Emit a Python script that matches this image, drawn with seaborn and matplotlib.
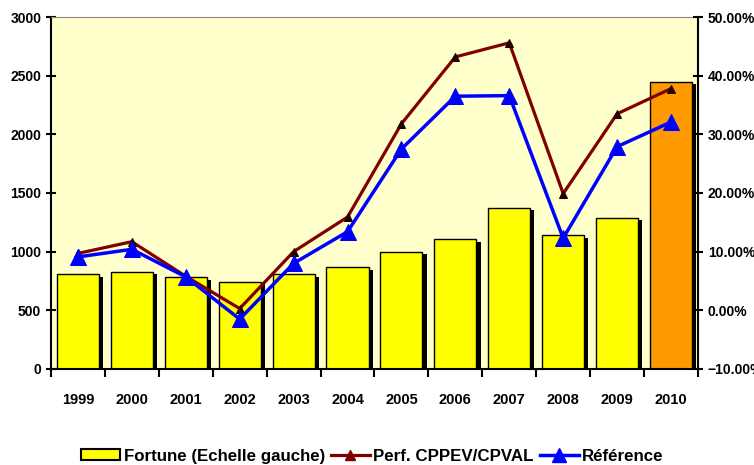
import seaborn as sns
import matplotlib.pyplot as plt
import matplotlib.patheffects as pe
from matplotlib.ticker import PercentFormatter
from matplotlib.lines import Line2D
from matplotlib.patches import Patch
import pandas as pd
import numpy as np

years = ['1999', '2000', '2001', '2002', '2003', '2004', '2005', '2006', '2007', '2008', '2009', '2010']
fortune = [810, 829, 781, 744, 810, 867, 1000, 1105, 1375, 1139, 1290, 2449]
perf = [9.7, 11.7, 5.8, 0.3, 10.0, 15.9, 31.8, 43.2, 45.6, 19.9, 33.5, 37.8]
reference = [9.1, 10.4, 5.7, -1.5, 8.0, 13.4, 27.5, 36.5, 36.6, 12.3, 27.9, 32.1]
highlight = ['past'] * 11 + ['current']

df = pd.DataFrame({'year': years, 'fortune': fortune, 'highlight': highlight})

plt.rcParams['font.family'] = ['Liberation Sans', 'DejaVu Sans']
plt.rcParams['font.weight'] = 'bold'

fig, ax = plt.subplots(figsize=(7.54, 4.65), dpi=100)
fig.subplots_adjust(left=0.0676, right=0.9257, top=0.9634, bottom=0.2065)
ax.set_facecolor('#FFFFCC')

sns.barplot(data=df, x='year', y='fortune', hue='highlight',
            palette={'past': '#FFFF00', 'current': '#FF9900'}, saturation=1,
            dodge=False, width=0.78, edgecolor='black', linewidth=1,
            legend=False, ax=ax)
# drop shadow behind each bar
for p in ax.patches:
    p.set_path_effects([pe.SimplePatchShadow(offset=(3, -2), shadow_rgbFace='black', alpha=1),
                        pe.Normal()])

ax.set_xlim(-0.5, 11.5)
ax.set_ylim(0, 3000)
ax.set_yticks(range(0, 3001, 500))
ax.set_xlabel('')
ax.set_ylabel('')
ax.set_xticks(np.arange(-0.5, 12, 1), minor=True)
ax.tick_params(axis='x', which='major', length=0, labelsize=10.5, pad=17)
ax.tick_params(axis='x', which='minor', length=6, width=1.5, direction='out')
ax.tick_params(axis='y', length=7, width=1.5, direction='inout', labelsize=10)
for lab in ax.get_xticklabels() + ax.get_yticklabels():
    lab.set_fontweight('bold')
ax.spines['top'].set_color('#888888')
ax.spines['top'].set_linewidth(0.8)
ax.spines['left'].set_linewidth(1.5)
ax.spines['bottom'].set_linewidth(1.5)
ax.spines['right'].set_visible(False)

ax2 = ax.twinx()
pos = np.arange(len(years))
sns.lineplot(x=pos, y=perf, ax=ax2, color='#800000', linewidth=2.3,
             marker='^', markersize=6, markerfacecolor='#200000',
             markeredgecolor='#200000')
sns.lineplot(x=pos, y=reference, ax=ax2, color='#0000FF', linewidth=2.5,
             marker='^', markersize=12, markerfacecolor='#0000FF',
             markeredgecolor='#0000FF')
ax2.set_ylim(-10, 50)
ax2.set_yticks(range(-10, 51, 10))
ax2.yaxis.set_major_formatter(PercentFormatter(xmax=100, decimals=2))
ax2.tick_params(axis='y', length=7, width=1.5, direction='inout', labelsize=10)
for lab in ax2.get_yticklabels():
    lab.set_fontweight('bold')
for s in ['top', 'left', 'bottom']:
    ax2.spines[s].set_visible(False)
ax2.spines['right'].set_linewidth(1.5)
ax2.set_xlim(-0.5, 11.5)

handles = [
    Patch(facecolor='#FFFF00', edgecolor='black', linewidth=1.5),
    Line2D([], [], color='#800000', linewidth=2.3, marker='^', markersize=7,
           markerfacecolor='#800000', markeredgecolor='#800000'),
    Line2D([], [], color='#0000FF', linewidth=2.5, marker='^', markersize=10,
           markerfacecolor='#0000FF', markeredgecolor='#0000FF'),
]
labels = ['Fortune (Echelle gauche)', 'Perf. CPPEV/CPVAL', 'Référence']
fig.legend(handles, labels, loc='lower center', bbox_to_anchor=(0.494, -0.03),
           ncol=3, frameon=False, handlelength=2.3, handleheight=0.6,
           handletextpad=0.2, columnspacing=0.35,
           prop={'weight': 'bold', 'size': 12.2})

fig.savefig('out.png', dpi=100)
